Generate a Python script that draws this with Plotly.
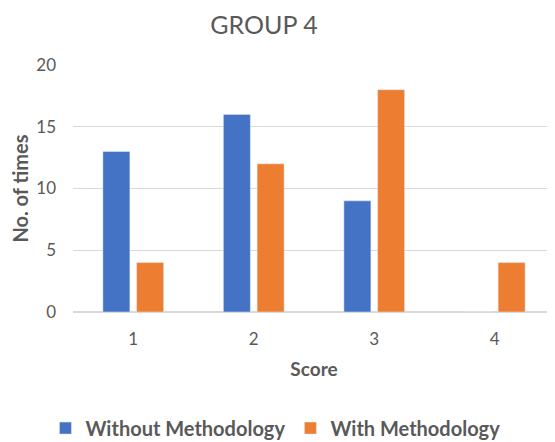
import plotly.graph_objects as go

categories = ["1", "2", "3", "4"]
without_methodology = [13, 16, 9, 0]
with_methodology = [4, 12, 18, 4]
y_ticks = [0, 5, 10, 15, 20]

FONT = "Lato"
GRAY = "#595959"

fig = go.Figure()
fig.add_trace(go.Bar(x=categories, y=without_methodology, name="<b>Without Methodology</b>",
                     marker=dict(color="#4472C4")))
fig.add_trace(go.Bar(x=categories, y=with_methodology, name="<b>With Methodology</b>",
                     marker=dict(color="#ED7D31")))

fig.update_layout(
    width=547, height=434,
    margin=dict(l=65, r=0, t=57, b=130, autoexpand=False),
    paper_bgcolor="white", plot_bgcolor="white",
    barmode="group", bargap=0.44, bargroupgap=0.2,
    title=dict(text="GROUP 4", x=0.468, xanchor="center", y=0.98, yanchor="top",
               font=dict(family=FONT, size=25, color=GRAY)),
    font=dict(family=FONT, color=GRAY),
    xaxis=dict(
        title=dict(text="<b>Score</b>", font=dict(family=FONT, size=19, color=GRAY), standoff=14),
        tickfont=dict(family=FONT, size=17, color=GRAY),
        showgrid=False, showline=True, linecolor="#d9d9d9", linewidth=1,
        ticks="", ticklabelstandoff=12,
    ),
    yaxis=dict(
        title=dict(text="<b>No. of times</b>", font=dict(family=FONT, size=20, color=GRAY), standoff=14),
        range=[0, 20], tickvals=y_ticks,
        tickfont=dict(family=FONT, size=17, color=GRAY),
        showgrid=True, gridcolor="#d9d9d9", gridwidth=1,
        zeroline=True, zerolinecolor="#d9d9d9",
        ticks="", ticklabelstandoff=16,
    ),
    legend=dict(orientation="h", x=0.42, xanchor="center", y=-0.47, yanchor="middle",
                font=dict(family=FONT, size=20, color=GRAY), itemwidth=30,
                traceorder="normal"),
)
fig.write_html("out.html")
